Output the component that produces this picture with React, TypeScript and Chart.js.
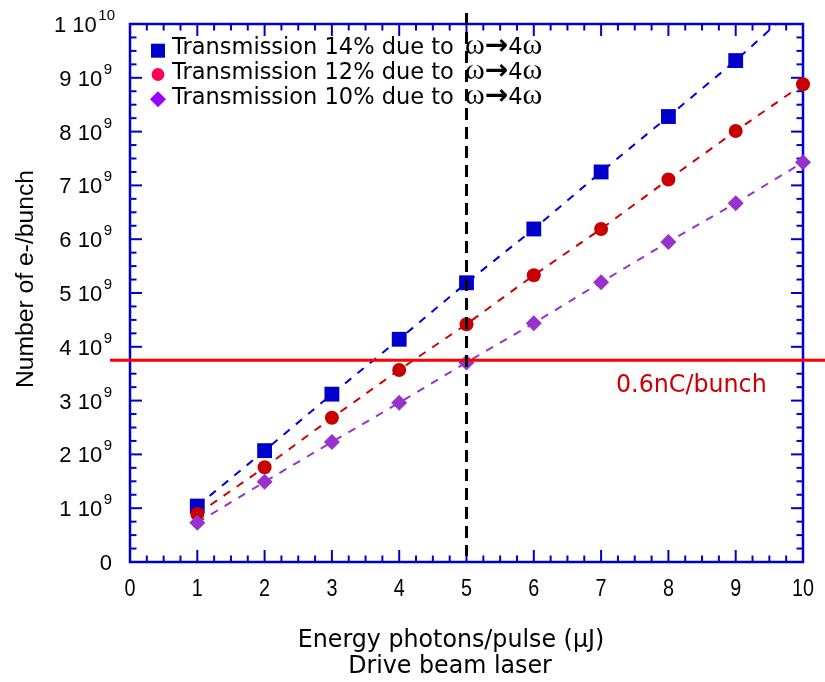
import React, { useEffect, useRef } from "react";
import { Chart, registerables } from "chart.js";

Chart.register(...registerables);

// ---------- data ----------
const energies = [1, 2, 3, 4, 5, 6, 7, 8, 9, 10];
const trans14 = [1.04e9, 2.07e9, 3.12e9, 4.14e9, 5.19e9, 6.19e9, 7.25e9, 8.28e9, 9.32e9, 10.45e9];
const trans12 = [0.89e9, 1.76e9, 2.68e9, 3.57e9, 4.42e9, 5.33e9, 6.19e9, 7.11e9, 8.01e9, 8.88e9];
const trans10 = [0.73e9, 1.49e9, 2.23e9, 2.96e9, 3.71e9, 4.44e9, 5.2e9, 5.95e9, 6.67e9, 7.43e9];

const legendPrefixes = ["Transmission 14% due to ", "Transmission 12% due to ", "Transmission 10% due to "];
const legendSuffix = "ω→4ω";

const xTickValues = [0, 1, 2, 3, 4, 5, 6, 7, 8, 9, 10];
const yTickMantissas = [0, 1, 2, 3, 4, 5, 6, 7, 8, 9, 1];
const yTickExponents = ["", "9", "9", "9", "9", "9", "9", "9", "9", "9", "10"];

const thresholdValue = 3.75e9;
const thresholdLabel = "0.6nC/bunch";
const markerEnergy = 5;

const xTitleLines = ["Energy photons/pulse (µJ)", "Drive beam laser"];
const yTitle = "Number of e-/bunch";

// ---------- styles ----------
const FRAME = "#0000CC";
const SANS = "'Liberation Sans', Arial, sans-serif";
const TAHOMA = "'DejaVu Sans', Verdana, sans-serif";

function sText(
  ctx: CanvasRenderingContext2D,
  text: string,
  x: number,
  y: number,
  font: string,
  align: "left" | "center" | "right",
  sx = 1
) {
  ctx.save();
  ctx.font = font;
  const w = ctx.measureText(text).width * sx;
  const x0 = align === "left" ? x : align === "center" ? x - w / 2 : x - w;
  ctx.translate(x0, y);
  ctx.scale(sx, 1);
  ctx.textAlign = "left";
  ctx.textBaseline = "alphabetic";
  ctx.fillText(text, 0, 0);
  ctx.restore();
  return w;
}

function seg(ctx: CanvasRenderingContext2D, x1: number, y1: number, x2: number, y2: number) {
  ctx.beginPath();
  ctx.moveTo(x1, y1);
  ctx.lineTo(x2, y2);
  ctx.stroke();
}

const customPlugin = {
  id: "customDecor",
  beforeDatasetsDraw(chart: any) {
    const { ctx, chartArea: a, scales } = chart;
    const xs = scales.x;
    const ys = scales.y;
    ctx.save();
    ctx.strokeStyle = FRAME;
    ctx.lineWidth = 2;
    for (let k = 0; k <= 40; k++) {
      const v = k * 0.25;
      const major = k % 4 === 0;
      const len = major ? 12 : 6.5;
      const px = xs.getPixelForValue(v);
      seg(ctx, px, a.bottom, px, a.bottom - len);
      seg(ctx, px, a.top, px, a.top + len);
    }
    for (let k = 0; k <= 40; k++) {
      const v = k * 0.25e9;
      const major = k % 4 === 0;
      const len = major ? 12 : 6.5;
      const py = ys.getPixelForValue(v);
      seg(ctx, a.left, py, a.left + len, py);
      seg(ctx, a.right, py, a.right - len, py);
    }
    ctx.lineWidth = 2.5;
    ctx.strokeRect(a.left, a.top, a.right - a.left, a.bottom - a.top);

    ctx.fillStyle = "#000";
    xTickValues.forEach((v) => {
      const px = xs.getPixelForValue(v);
      sText(ctx, String(v), px, 596, `23px ${SANS}`, "center", 0.86);
    });
    yTickMantissas.forEach((m, i) => {
      const value = i * 1e9;
      const py = ys.getPixelForValue(value);
      const exp = yTickExponents[i];
      if (!exp) {
        sText(ctx, "0", 112, py + 8, `22px ${SANS}`, "right");
        return;
      }
      ctx.font = `15px ${SANS}`;
      const supW = ctx.measureText(exp).width;
      const R = exp === "10" ? 115 : 112;
      sText(ctx, exp, R - supW, py - 4, `15px ${SANS}`, "left");
      sText(ctx, `${m} 10`, R - supW - 1.5, py + 8, `22px ${SANS}`, "right");
    });

    sText(ctx, xTitleLines[0], 451, 646.5, `25px ${TAHOMA}`, "center", 0.95);
    sText(ctx, xTitleLines[1], 450, 672.5, `25px ${TAHOMA}`, "center", 0.95);
    ctx.save();
    ctx.translate(33, 279);
    ctx.rotate(-Math.PI / 2);
    sText(ctx, yTitle, 0, 0, `24.7px ${SANS}`, "center");
    ctx.restore();
    ctx.restore();
  },
  afterDatasetsDraw(chart: any) {
    const { ctx, chartArea: a, scales } = chart;
    const xs = scales.x;
    const ys = scales.y;
    ctx.save();
    const ty = ys.getPixelForValue(thresholdValue);
    ctx.strokeStyle = "#FF0000";
    ctx.lineWidth = 3;
    seg(ctx, 110, ty, chart.width, ty);
    const vx = xs.getPixelForValue(markerEnergy);
    ctx.strokeStyle = "#000";
    ctx.lineWidth = 3;
    ctx.setLineDash([12, 7]);
    seg(ctx, vx, 13, vx, a.bottom - 6);
    ctx.setLineDash([]);
    ctx.fillStyle = "#CC0000";
    sText(ctx, thresholdLabel, 616, 391.5, `25px ${TAHOMA}`, "left", 0.95);

    const mk = [
      { y: 50.7, draw: (x: number, y: number) => { ctx.fillStyle = "#0000CC"; ctx.fillRect(x - 7, y - 7, 14, 14); } },
      { y: 74.5, draw: (x: number, y: number) => { ctx.fillStyle = "#FF0055"; ctx.beginPath(); ctx.arc(x, y, 6.4, 0, Math.PI * 2); ctx.fill(); } },
      { y: 99.3, draw: (x: number, y: number) => { ctx.fillStyle = "#9900FF"; ctx.beginPath(); ctx.moveTo(x - 8, y); ctx.lineTo(x, y - 8); ctx.lineTo(x + 8, y); ctx.lineTo(x, y + 8); ctx.closePath(); ctx.fill(); } },
    ];
    legendPrefixes.forEach((p, i) => {
      mk[i].draw(158, mk[i].y);
      const base = 54 + i * 25;
      ctx.fillStyle = "#000";
      let x = 172 + sText(ctx, p, 172, base, `23.7px ${TAHOMA}`, "left", 0.95);
      x += 4;
      const parts: [string, string, number][] = [
        [legendSuffix[0], `30px 'Liberation Serif', serif`, 1],
        [legendSuffix[1], `bold 28px ${TAHOMA}`, 1],
        [legendSuffix[2], `23.7px ${TAHOMA}`, 0.95],
        [legendSuffix[3], `30px 'Liberation Serif', serif`, 1],
      ];
      parts.forEach(([t, f, sx]) => {
        x += sText(ctx, t, x, base, f, "left", sx);
      });
    });
    ctx.restore();
  },
};

export default function App() {
  const ref = useRef<HTMLCanvasElement>(null);
  useEffect(() => {
    const toPts = (vals: number[]) => energies.map((e, i) => ({ x: e, y: vals[i] }));
    const chart = new Chart(ref.current as HTMLCanvasElement, {
      type: "line",
      data: {
        datasets: [
          {
            label: legendPrefixes[0] + legendSuffix,
            data: toPts(trans14),
            borderColor: "#0000DD",
            borderWidth: 2,
            borderDash: [8, 8],
            pointStyle: "rect",
            pointRadius: 10.5,
            pointBackgroundColor: "#0000CC",
            pointBorderWidth: 0,
            order: 3,
            clip: { left: false, right: false, bottom: false, top: 0 } as any,
          },
          {
            label: legendPrefixes[1] + legendSuffix,
            data: toPts(trans12),
            borderColor: "#CC0000",
            borderWidth: 2,
            borderDash: [8, 8],
            pointStyle: "circle",
            pointRadius: 7,
            pointBackgroundColor: "#C80000",
            pointBorderWidth: 0,
            order: 2,
            clip: false as any,
          },
          {
            label: legendPrefixes[2] + legendSuffix,
            data: toPts(trans10),
            borderColor: "#9932CC",
            borderWidth: 2,
            borderDash: [8, 8],
            pointStyle: "rectRot",
            pointRadius: 8,
            pointBackgroundColor: "#9932CC",
            pointBorderWidth: 0,
            order: 1,
            clip: false as any,
          },
        ],
      },
      options: {
        animation: false,
        responsive: false,
        devicePixelRatio: 1,
        layout: { padding: { left: 0, right: 22, top: 24, bottom: 0 } },
        plugins: { legend: { display: false }, tooltip: { enabled: false } },
        scales: {
          x: {
            type: "linear",
            min: 0,
            max: 10,
            ticks: { display: false, stepSize: 1 },
            grid: { display: false, drawTicks: false },
            border: { display: false },
            afterFit: (s: any) => {
              s.height = 120;
            },
          },
          y: {
            type: "linear",
            min: 0,
            max: 1e10,
            ticks: { display: false, stepSize: 1e9 },
            grid: { display: false, drawTicks: false },
            border: { display: false },
            afterFit: (s: any) => {
              s.width = 130;
            },
          },
        },
      },
      plugins: [customPlugin],
    });
    return () => chart.destroy();
  }, []);
  return (
    <div style={{ position: "absolute", left: 0, top: 0, width: 825, height: 682, background: "#fff" }}>
      <canvas ref={ref} width={825} height={682} style={{ display: "block", width: 825, height: 682 }} />
    </div>
  );
}
